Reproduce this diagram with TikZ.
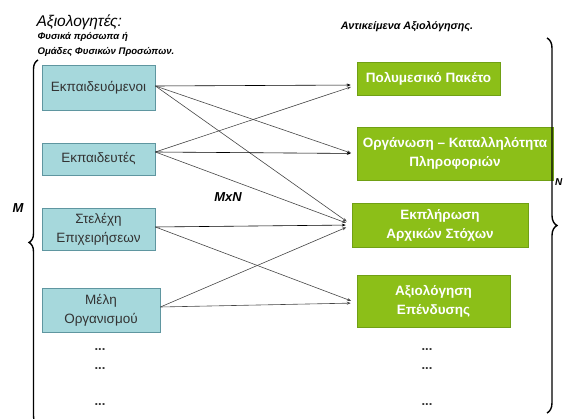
\documentclass[tikz,border=0pt]{standalone}
\usepackage{fontspec}
\setmainfont{Liberation Sans}
\usetikzlibrary{decorations.pathreplacing,arrows.meta}
\definecolor{bluefill}{RGB}{166,216,220}
\definecolor{blueline}{RGB}{95,150,160}
\definecolor{greenfill}{RGB}{140,191,24}
\definecolor{greenline}{RGB}{112,160,20}
\definecolor{linegray}{RGB}{70,70,70}
\begin{document}
\begin{tikzpicture}[x=1pt,y=-1pt,
  bluebox/.style={draw=blueline,fill=bluefill,line width=0.8pt,align=center,
    text=black!80,font=\fontsize{13.5}{19}\selectfont,inner sep=0pt},
  greenbox/.style={draw=greenline,line width=0.5pt,fill=greenfill,align=center,text=white,
    font=\bfseries\fontsize{13.5}{19}\selectfont,inner sep=0pt},
  conn/.style={draw=linegray,line width=0.6pt,-{Stealth[length=4pt,width=3pt]},shorten >=6pt},
  hconn/.style={conn,draw=black},
  dots/.style={font=\bfseries\fontsize{13}{14}\selectfont,text=black!80},
  lbl/.style={font=\bfseries\itshape\fontsize{13}{15}\selectfont}]
\useasboundingbox (0,0) rectangle (563,419);
% titles
\node[anchor=west,font=\itshape\fontsize{15.5}{17}\selectfont] (t1) at (33,22) {Αξιολογητές:};
\node[anchor=west,font=\bfseries\itshape\fontsize{9.6}{11}\selectfont] (t2) at (34,37) {Φυσικά πρόσωπα ή};
\node[anchor=west,font=\bfseries\itshape\fontsize{9.6}{11}\selectfont] (t3) at (34,52) {Ομάδες Φυσικών Προσώπων.};
\node[font=\bfseries\itshape\fontsize{10.8}{13}\selectfont] (t4) at (407,27) {Αντικείμενα Αξιολόγησης.};
% left boxes
\node[bluebox,minimum width=113pt,minimum height=45pt] (e1) at (98.5,87.5) {Εκπαιδευόμενοι};
\node[bluebox,minimum width=113pt,minimum height=32pt] (e2) at (98.5,159) {Εκπαιδευτές};
\node[bluebox,minimum width=113pt,minimum height=42pt] (e3) at (98.5,229) {Στελέχη\\Επιχειρήσεων};
\node[bluebox,minimum width=118pt,minimum height=44pt] (e4) at (101,310) {Μέλη\\Οργανισμού};
% right boxes
\node[greenbox,minimum width=143pt,minimum height=33pt] (g1) at (428.5,78.5) {Πολυμεσικό Πακέτο};
\node[greenbox,minimum width=196pt,minimum height=53pt] (g2) at (455,153.5) {Οργάνωση – Καταλληλότητα\\Πληροφοριών};
\node[greenbox,minimum width=176pt,minimum height=44pt] (g3) at (440,225) {Εκπλήρωση\\Αρχικών Στόχων};
\node[greenbox,minimum width=153pt,minimum height=52pt] (g4) at (433.5,301) {Αξιολόγηση\\Επένδυσης};
% dots
\node[dots] (ld1) at (100,350) {...};
\node[dots] (ld2) at (100,369) {...};
\node[dots] (ld3) at (100,405) {...};
\node[dots] (rd1) at (427,350) {...};
\node[dots] (rd2) at (427,369) {...};
\node[dots] (rd3) at (427,405) {...};
% connectors
\draw[hconn] ([yshift=1.5pt]e1.east) -- ([yshift=-6.5pt]g1.west);
\draw[conn] ([yshift=1.5pt]e1.east) -- ([yshift=-1.5pt]g2.west);
\draw[conn] ([yshift=1.5pt]e1.east) -- (g3.west);
\draw[conn] ([yshift=7pt]e2.east) -- ([yshift=-6.5pt]g1.west);
\draw[hconn] ([yshift=7pt]e2.east) -- ([yshift=0pt]g2.west);
\draw[conn] ([yshift=7pt]e2.east) -- (g3.west);
\draw[hconn] ([yshift=2pt]e3.east) -- ([yshift=0pt]g3.west);
\draw[conn] ([yshift=2pt]e3.east) -- ([yshift=-2pt]g4.west);
\draw[conn] ([yshift=3pt]e4.east) -- (g3.west);
\draw[conn] ([yshift=3pt]e4.east) -- ([yshift=-2pt]g4.west);
% braces
\coordinate (lb1) at (38,425);
\coordinate (lb2) at (38,60);
\draw[line width=1.4pt,decorate,decoration={brace,amplitude=9pt}] (lb1) -- (lb2);
\coordinate (rb1) at (547,38);
\coordinate (rb2) at (547,413);
\draw[line width=1.4pt,decorate,decoration={brace,amplitude=10pt}] (rb1) -- (rb2);
% labels
\node[lbl] (m) at (18,208) {M};
\node[lbl,anchor=east,font=\bfseries\itshape\fontsize{10}{12}\selectfont,inner xsep=0.5pt] (n) at (563,182) {N};
\node[lbl] (mxn) at (228,197) {MxN};
\end{tikzpicture}
\end{document}
